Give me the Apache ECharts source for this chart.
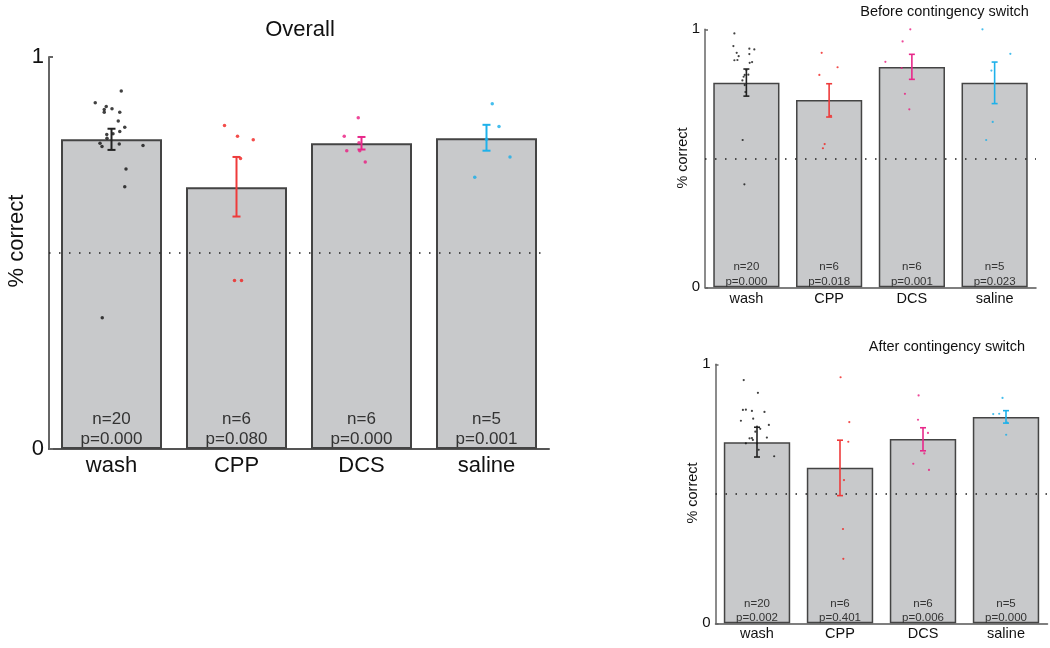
<!DOCTYPE html>
<html>
<head>
<meta charset="utf-8">
<script src="https://cdn.jsdelivr.net/npm/echarts@6/dist/echarts.min.js"></script>
<style>
html,body{margin:0;padding:0;background:#fff;}
#chart{width:1050px;height:648px;}
</style>
</head>
<body>
<div id="chart"></div>
<script>
// ---------- DATA ----------
const categories = ['wash', 'CPP', 'DCS', 'saline'];
const yTicks = [0, 1];
const chanceLevel = 0.5;

// Overall
const overallMeans = [0.790, 0.668, 0.780, 0.793];
const overallErrLow = [0.763, 0.593, 0.764, 0.761];
const overallErrHigh = [0.817, 0.745, 0.796, 0.827];
const overallN = [20, 6, 6, 5];
const overallP = ['0.000', '0.080', '0.000', '0.001'];
const overallWash = [0.913,0.883,0.874,0.868,0.866,0.859,0.859,0.837,0.821,0.810,0.802,0.804,0.793,0.780,0.772,0.778,0.774,0.714,0.669,0.335];
const overallWashJitter = [0.078,-0.13,-0.042,0.004,-0.058,-0.058,0.066,0.054,0.106,0.066,-0.038,0.012,-0.036,-0.092,-0.076,0.062,0.252,0.116,0.106,-0.074];
const overallCPP = [0.825,0.798,0.789,0.741,0.430,0.430];
const overallCPPJitter = [-0.096,0.008,0.134,0.032,-0.016,0.04];
const overallDCS = [0.845,0.798,0.761,0.761,0.732,0.781];
const overallDCSJitter = [-0.026,-0.138,-0.118,-0.014,0.030,-0.02];
const overallSaline = [0.881,0.823,0.745,0.693,0.790];
const overallSalineJitter = [0.046,0.1,0.188,-0.094,0.0];

// Before contingency switch
const beforeMeans = [0.793, 0.726, 0.854, 0.793];
const beforeErrLow = [0.741, 0.660, 0.806, 0.712];
const beforeErrHigh = [0.846, 0.789, 0.903, 0.873];
const beforeN = [20, 6, 6, 5];
const beforeP = ['0.000', '0.018', '0.001', '0.023'];
const beforeWash = [0.984,0.935,0.909,0.896,0.925,0.922,0.904,0.880,0.881,0.870,0.873,0.823,0.824,0.802,0.784,0.757,0.571,0.399,0.842,0.816];
const beforeWashJitter = [-0.145,-0.157,-0.117,-0.093,0.036,0.096,0.036,-0.145,-0.108,0.040,0.069,-0.020,0.024,-0.048,-0.020,-0.012,-0.045,-0.024,0.0,-0.033];
const beforeCPP = [0.909,0.823,0.853,0.665,0.555,0.539];
const beforeCPPJitter = [-0.09,-0.118,0.102,0.022,-0.054,-0.075];
const beforeDCS = [1.0,0.953,0.874,0.850,0.750,0.690];
const beforeDCSJitter = [-0.019,-0.112,-0.32,-0.124,-0.084,-0.031];
const beforeSaline = [1.0,0.905,0.840,0.641,0.571];
const beforeSalineJitter = [-0.147,0.19,-0.039,-0.023,-0.102];

// After contingency switch
const afterMeans = [0.699, 0.601, 0.712, 0.797];
const afterErrLow = [0.642, 0.493, 0.666, 0.773];
const afterErrHigh = [0.757, 0.707, 0.755, 0.821];
const afterN = [20, 6, 6, 5];
const afterP = ['0.002', '0.401', '0.006', '0.000'];
const afterWash = [0.939,0.890,0.824,0.825,0.820,0.816,0.790,0.782,0.766,0.759,0.751,0.714,0.715,0.717,0.695,0.645,0.695,0.740,0.670,0.708];
const afterWashJitter = [-0.16,0.011,-0.17,-0.134,-0.061,0.09,-0.046,-0.194,0.143,0,0.039,-0.09,-0.061,0.119,-0.134,0.207,0,-0.02,0.02,-0.05];
const afterCPP = [0.950,0.777,0.701,0.553,0.364,0.249];
const afterCPPJitter = [0.007,0.112,0.1,0.048,0.036,0.04];
const afterDCS = [0.880,0.786,0.735,0.656,0.616,0.592];
const afterDCSJitter = [-0.053,-0.06,0.06,0.016,-0.117,0.072];
const afterSaline = [0.870,0.808,0.809,0.775,0.728];
const afterSalineJitter = [-0.042,-0.154,-0.082,0.014,0.002];

// ---------- STYLE ----------
const FONT = '"Liberation Sans", Arial, Helvetica, sans-serif';
const dotColors = ['#111111', '#f0201e', '#ea1a80', '#17aee8'];
const errColors = ['#222222', '#ee3b3b', '#e8288a', '#1eb1ea'];

const panels = [
  {
    grid: {left: 49, top: 57, width: 500, height: 392},
    means: overallMeans, low: overallErrLow, high: overallErrHigh, n: overallN, p: overallP,
    dots: [overallWash, overallCPP, overallDCS, overallSaline],
    jit: [overallWashJitter, overallCPPJitter, overallDCSJitter, overallSalineJitter],
    tickFont: 22, catFont: 22, catMargin: 6, npFont: 17, npLH: 20, npDist: 0,
    cap: 4, errW: 2, dot: 3.5, border: 2, axisW: 2, tickLen: 4, barW: '80.8%'
  },
  {
    grid: {left: 705, top: 29.3, width: 331, height: 258},
    means: beforeMeans, low: beforeErrLow, high: beforeErrHigh, n: beforeN, p: beforeP,
    dots: [beforeWash, beforeCPP, beforeDCS, beforeSaline],
    jit: [beforeWashJitter, beforeCPPJitter, beforeDCSJitter, beforeSalineJitter],
    tickFont: 15, catFont: 14.5, catMargin: 4, npFont: 11.5, npLH: 15, npDist: -2,
    cap: 3, errW: 1.6, dot: 2.2, border: 1.5, axisW: 1.5, tickLen: 3, barW: '80%'
  },
  {
    grid: {left: 715.5, top: 364.3, width: 332, height: 259},
    means: afterMeans, low: afterErrLow, high: afterErrHigh, n: afterN, p: afterP,
    dots: [afterWash, afterCPP, afterDCS, afterSaline],
    jit: [afterWashJitter, afterCPPJitter, afterDCSJitter, afterSalineJitter],
    tickFont: 15, catFont: 14.5, catMargin: 3, npFont: 11.5, npLH: 14, npDist: -2,
    cap: 3, errW: 1.6, dot: 2.2, border: 1.5, axisW: 1.5, tickLen: 3, barW: '80%'
  }
];

const grids = [], xAxes = [], yAxes = [], series = [];

panels.forEach(function (P, pi) {
  grids.push(Object.assign({containLabel: false}, P.grid));
  xAxes.push({
    type: 'category', gridIndex: pi, data: categories,
    axisLine: {show: true, onZero: false, lineStyle: {color: '#555', width: P.axisW}},
    axisTick: {show: false},
    axisLabel: {color: '#111', fontSize: P.catFont, fontFamily: FONT, margin: P.catMargin},
    splitLine: {show: false}
  });
  xAxes.push({
    type: 'value', gridIndex: pi, min: -0.5, max: categories.length - 0.5, show: false,
    axisLine: {onZero: false},
    splitLine: {show: false}
  });
  yAxes.push({
    type: 'value', gridIndex: pi, min: yTicks[0], max: yTicks[yTicks.length - 1],
    interval: yTicks[1] - yTicks[0],
    axisLine: {show: true, onZero: false, lineStyle: {color: '#666', width: P.axisW}},
    axisTick: {show: true, inside: true, length: P.tickLen, lineStyle: {color: '#666', width: P.axisW}},
    axisLabel: {color: '#111', fontSize: P.tickFont, fontFamily: FONT, margin: 5},
    splitLine: {show: false}
  });

  // bars
  series.push({
    type: 'bar', xAxisIndex: pi * 2, yAxisIndex: pi, data: P.means,
    barWidth: P.barW, z: 2,
    itemStyle: {color: '#c8c9cb', borderColor: '#444', borderWidth: P.border},
    label: {
      show: true, position: 'insideBottom', distance: P.npDist,
      fontSize: P.npFont, lineHeight: P.npLH, fontFamily: FONT, color: '#333',
      formatter: function (prm) {
        return 'n=' + P.n[prm.dataIndex] + '\np=' + P.p[prm.dataIndex];
      }
    },
    markLine: {
      silent: true, symbol: 'none', z: 5,
      label: {show: false},
      lineStyle: {type: [1.5, 8.5], color: '#222', width: 1.5},
      data: [{yAxis: chanceLevel}]
    },
    animation: false
  });

  // dots
  P.dots.forEach(function (vals, ci) {
    series.push({
      type: 'scatter', xAxisIndex: pi * 2 + 1, yAxisIndex: pi, z: 3,
      symbol: 'circle', symbolSize: P.dot,
      itemStyle: {color: dotColors[ci]},
      data: vals.map(function (v, k) { return [ci + P.jit[ci][k], v]; }),
      animation: false
    });
  });

  // error bars
  series.push({
    type: 'custom', xAxisIndex: pi * 2 + 1, yAxisIndex: pi, z: 4,
    data: categories.map(function (c, ci) { return [ci, P.low[ci], P.high[ci]]; }),
    renderItem: function (params, api) {
      const ci = api.value(0);
      const lo = api.coord([ci, api.value(1)]);
      const hi = api.coord([ci, api.value(2)]);
      const col = errColors[ci];
      const st = {stroke: col, lineWidth: P.errW};
      return {
        type: 'group',
        children: [
          {type: 'line', shape: {x1: lo[0], y1: lo[1], x2: hi[0], y2: hi[1]}, style: st},
          {type: 'line', shape: {x1: lo[0] - P.cap, y1: lo[1], x2: lo[0] + P.cap, y2: lo[1]}, style: st},
          {type: 'line', shape: {x1: hi[0] - P.cap, y1: hi[1], x2: hi[0] + P.cap, y2: hi[1]}, style: st}
        ]
      };
    },
    animation: false
  });
});

function txt(text, x, y, size, rot) {
  return {
    type: 'text', x: x, y: y, rotation: rot || 0,
    style: {text: text, fontSize: size, fontFamily: FONT, fill: '#111',
            textAlign: 'center', textVerticalAlign: 'middle'}
  };
}

const option = {
  backgroundColor: '#fff',
  animation: false,
  grid: grids,
  xAxis: xAxes,
  yAxis: yAxes,
  series: series,
  graphic: [
    txt('Overall', 300, 30, 22),
    txt('Before contingency switch', 944.5, 12, 14.5),
    txt('After contingency switch', 947, 347, 14.5),
    txt('% correct', 17, 241, 22, Math.PI / 2),
    txt('% correct', 683, 158, 14.5, Math.PI / 2),
    txt('% correct', 693, 493, 14.5, Math.PI / 2)
  ]
};

const chart = echarts.init(document.getElementById('chart'), null, {renderer: 'canvas'});
chart.setOption(option);
</script>
</body>
</html>
